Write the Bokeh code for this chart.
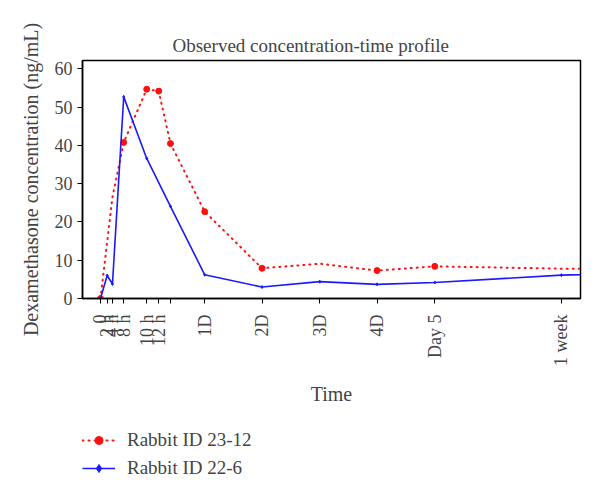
import math
from bokeh.plotting import figure
from bokeh.layouts import column
from bokeh.models import Range1d, FixedTicker, Legend, LegendItem, Title
from bokeh.embed import file_html
from bokeh.resources import INLINE

# x positions on the time axis (hours-like units)
tick_pos = [0, 2.8, 5.0, 9.7, 19.3, 24.3, 29.2, 43.5, 67.4, 91.5, 115.4, 139.5, 192.3]
tick_labels = ["0", "2 h", "4 h", "8 h", "10 h", "12 h", "", "1D", "2D", "3D", "4D", "Day 5", "1 week"]

red_x = [0, 5.0, 9.7, 19.3, 24.3, 29.2, 43.5, 67.4, 91.5, 115.4, 139.5, 192.3, 230]
red_y = [0, 26.5, 40.8, 54.7, 54.2, 40.5, 22.7, 7.9, 9.1, 7.3, 8.4, 7.8, 7.8]
red_marker = [1, 0, 1, 1, 1, 1, 1, 1, 0, 1, 1, 0, 0]

blue_x = [0, 2.8, 5.0, 9.7, 19.3, 29.2, 43.5, 67.4, 91.5, 115.4, 139.5, 192.3, 230]
blue_y = [0, 6.0, 3.8, 52.7, 36.6, 24.1, 6.2, 3.0, 4.4, 3.7, 4.2, 6.1, 6.8]

series_names = ["Rabbit ID 23-12", "Rabbit ID 22-6"]

SERIF = "Liberation Serif"
RED = "#ff1010"
BLUE = "#1a1aff"

p = figure(width=600, height=420, output_backend="svg", toolbar_location=None,
           x_range=Range1d(-7.5, 200.3), y_range=Range1d(0, 62.2))
p.min_border_left = 82
p.min_border_right = 20
p.min_border_top = 60
p.min_border_bottom = 122
p.outline_line_color = "black"
p.outline_line_width = 1.5
p.grid.visible = False
p.background_fill_color = "white"
p.border_fill_color = "white"

p.title = Title(text="Observed concentration-time profile", text_font=SERIF,
                text_font_size="19px", text_font_style="normal", align="left",
                offset=90, standoff=10)

# y axis
ya = p.yaxis[0]
ya.ticker = FixedTicker(ticks=[0, 10, 20, 30, 40, 50, 60])
ya.axis_label = "Dexamethasone concentration (ng/mL)"
ya.axis_label_text_font = SERIF
ya.axis_label_text_font_size = "20px"
ya.axis_label_text_font_style = "normal"
ya.major_label_text_font = SERIF
ya.major_label_text_font_size = "18px"
ya.minor_tick_line_color = None
ya.major_tick_out = 5
ya.major_tick_in = 0
ya.axis_line_width = 1.5
ya.axis_label_standoff = 10

# x axis
xa = p.xaxis[0]
xa.ticker = FixedTicker(ticks=tick_pos)
xa.major_label_overrides = {t: l for t, l in zip(tick_pos, tick_labels)}
xa.major_label_orientation = math.pi / 2
xa.major_label_standoff = 11
xa.major_label_text_font = SERIF
xa.major_label_text_font_size = "18px"
xa.minor_tick_line_color = None
xa.major_tick_out = 5
xa.major_tick_in = 0
xa.axis_line_width = 1.5
xa.axis_label = "Time"
xa.axis_label_text_font = SERIF
xa.axis_label_text_font_size = "20px"
xa.axis_label_text_font_style = "normal"
xa.axis_label_standoff = 14

mx = [x for x, m in zip(red_x, red_marker) if m]
my = [y for y, m in zip(red_y, red_marker) if m]


def draw(fig):
    rl = fig.line(red_x, red_y, line_color=RED, line_width=2, line_dash="1 5", line_cap="round")
    rp = fig.scatter(mx, my, size=6, color=RED)
    bl = fig.line(blue_x, blue_y, line_color=BLUE, line_width=1.6)
    bp = fig.scatter(blue_x, blue_y, size=3, marker="diamond", color=BLUE)
    return rl, rp, bl, bp


draw(p)

# legend panel below the chart (series drawn out of view, only the key shows)
lf = figure(width=600, height=79, output_backend="svg", toolbar_location=None,
            x_axis_location=None, y_axis_location=None,
            x_range=Range1d(0, 1), y_range=Range1d(-1000, -999),
            min_border=0, outline_line_color=None)
lf.grid.visible = False
rl, rp, bl, bp = draw(lf)
legend = Legend(items=[
    LegendItem(label=series_names[0], renderers=[rl, rp]),
    LegendItem(label=series_names[1], renderers=[bl, bp]),
], location=(0, 20), orientation="vertical",
    label_text_font=SERIF, label_text_font_size="19px",
    border_line_color=None, background_fill_alpha=0,
    glyph_width=33, glyph_height=20, label_height=20,
    label_standoff=12, spacing=6, padding=0, margin=0)
lf.add_layout(legend, "center")

layout = column(p, lf, spacing=0)
open("out.html", "w").write(file_html(layout, INLINE))
